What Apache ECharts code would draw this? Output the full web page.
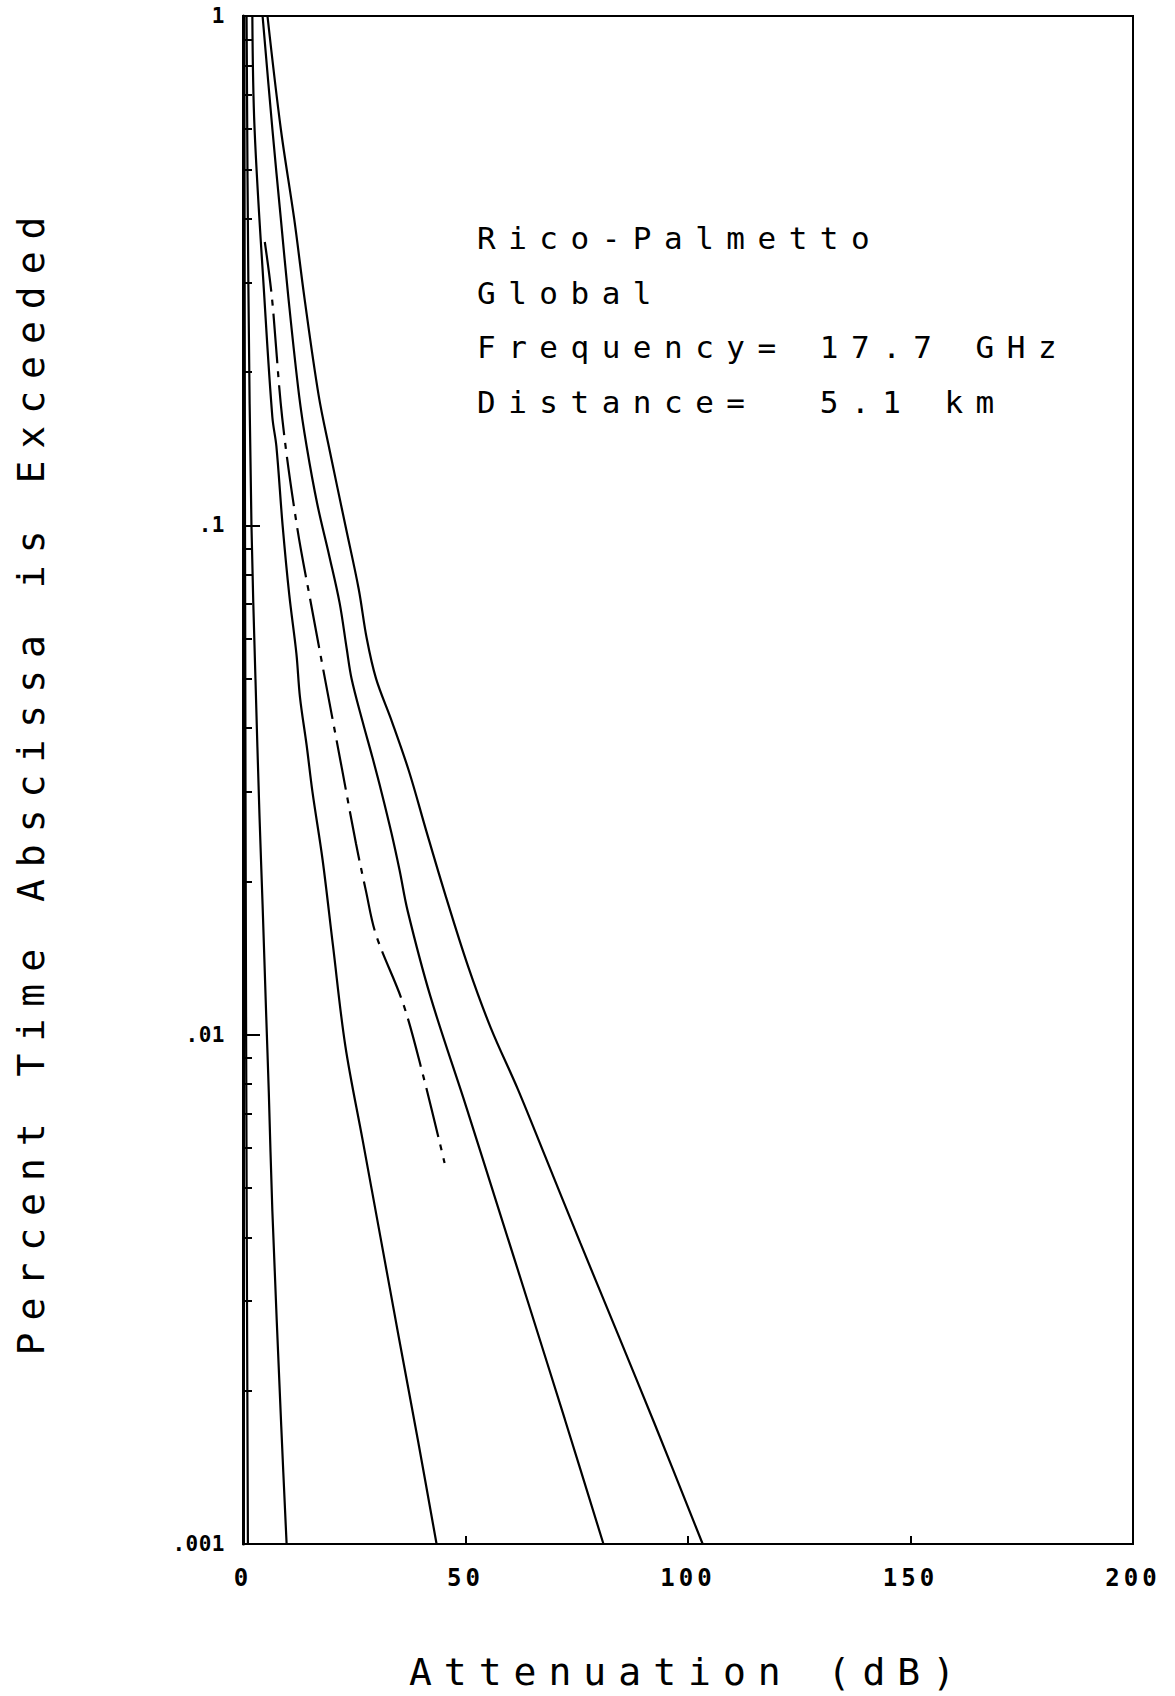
<!DOCTYPE html>
<html><head><meta charset="utf-8">
<script src="https://cdn.jsdelivr.net/npm/echarts@6/dist/echarts.min.js"></script>
<style>
html,body{margin:0;padding:0;background:#fff;}
#chart{width:1175px;height:1696px;}
#chart text{white-space:pre;}
#chart text[style*="31px"]{letter-spacing:12.5px;}
#chart text[style*="38px"]{letter-spacing:12px;}
#chart text[style*="24px"]{letter-spacing:4px;}
#chart text[style*="21px"]{letter-spacing:0.5px;}
</style></head><body><div id="chart"></div>
<script>
// [attenuation dB, percent time exceeded]
const curve0 = [[0.3,1],[0.45,0.1],[0.7,0.01],[1.1,0.001]];
const curve1 = [[0.8,1],[1.2,0.3],[1.9,0.1],[2.8,0.05],[3.7,0.027],[4.4,0.018],[5.2,0.011],[5.8,0.0077],[6.6,0.0045],[8.6,0.0017],[9.8,0.001]];
const curve2 = [[2.1,1],[2.6,0.6],[4.8,0.28],[6.6,0.163],[7.5,0.143],[8.9,0.1],[10.4,0.073],[12.0,0.056],[12.8,0.046],[14.3,0.037],[15.6,0.03],[17.9,0.022],[20.2,0.015],[23.0,0.0095],[26.9,0.0062],[30.9,0.004],[35.0,0.00255],[39.3,0.0016],[43.5,0.001]];
const dashCurve = [[4.9,0.36],[6.5,0.28],[8.8,0.163],[12.1,0.1],[15.3,0.07],[18.7,0.0485],[22.2,0.0334],[25.4,0.0237],[27.6,0.0192],[29.9,0.0157],[36,0.0115],[40.5,0.0083],[45.3,0.0056]];
const curve3 = [[4.4,1],[6.6,0.6],[8.5,0.4],[10.2,0.28],[12.6,0.18],[14.3,0.143],[16.7,0.11],[19.4,0.087],[21.7,0.0705],[23.3,0.0573],[24.4,0.05],[26.9,0.0411],[29.1,0.035],[31.1,0.03],[33.4,0.0248],[35.2,0.021],[37.0,0.0175],[42.1,0.0119],[50.2,0.0072],[57.6,0.0045],[64.5,0.0029],[72.3,0.00176],[81.0,0.001]];
const curve4 = [[5.5,1],[8.5,0.6],[11.5,0.4],[13.8,0.28],[17,0.18],[19.5,0.14],[23.0,0.1],[26,0.075],[27.8,0.06],[29.9,0.05],[33.5,0.0411],[37.3,0.0329],[41.2,0.0251],[45.4,0.0189],[50.6,0.0136],[55.7,0.0103],[61.8,0.0078],[67.8,0.0058],[75.8,0.0039],[84.5,0.00255],[92.4,0.00173],[103.3,0.001]];

const yMajorTicks = [0.001, 0.01, 0.1, 1];
const yMinorTicks = [0.002,0.003,0.004,0.005,0.006,0.007,0.008,0.009,
                     0.02,0.03,0.04,0.05,0.06,0.07,0.08,0.09,
                     0.2,0.3,0.4,0.5,0.6,0.7,0.8,0.9];
const noteLines = ['Rico-Palmetto', 'Global', 'Frequency= 17.7 GHz', 'Distance=  5.1 km'];
const xTitle = 'Attenuation (dB)';
const yTitle = 'Percent Time Abscissa is Exceeded';

const FONT = '"DejaVu Sans Mono", monospace';
const chart = echarts.init(document.getElementById('chart'), null, {renderer: 'svg'});

function yLabel(v) {
  const e = Math.round(Math.log10(v));
  if (e === 0) return '1';
  return '.' + '0'.repeat(-e - 1) + '1';
}

const solid = (data) => ({
  type: 'line', data, showSymbol: false, smooth: 0.35,
  lineStyle: {color: '#000', width: 2.2}, silent: true, animation: false
});

chart.setOption({
  animation: false,
  backgroundColor: '#fff',
  grid: {left: 243, right: 42, top: 16, bottom: 141, show: true, borderColor: '#000', borderWidth: 2, containLabel: false},
  xAxis: {
    type: 'value', min: 0, max: 200, interval: 50,
    name: xTitle, nameLocation: 'middle', nameGap: 109,
    nameTextStyle: {fontFamily: FONT, fontSize: 38, color: '#000'},
    axisLine: {show: true, lineStyle: {color: '#000', width: 2}},
    axisTick: {show: true, inside: true, length: 8, lineStyle: {color: '#000', width: 2}},
    axisLabel: {fontFamily: FONT, fontSize: 24, fontWeight: 'bold', color: '#000', margin: 22},
    splitLine: {show: false}
  },
  yAxis: [{
    type: 'log', logBase: 10, min: 0.001, max: 1,
    name: yTitle, nameLocation: 'middle', nameGap: 193, nameRotate: 90,
    nameTextStyle: {fontFamily: FONT, fontSize: 38, color: '#000'},
    axisLine: {show: true, lineStyle: {color: '#000', width: 3}},
    axisTick: {show: true, inside: true, length: 17, customValues: yMajorTicks, lineStyle: {color: '#000', width: 2}},
    axisLabel: {fontFamily: FONT, fontSize: 21, fontWeight: 'bold', color: '#000', margin: 18, customValues: yMajorTicks, formatter: yLabel},
    splitLine: {show: false}, minorTick: {show: false}
  }, {
    type: 'log', logBase: 10, min: 0.001, max: 1, position: 'left', offset: 0,
    axisLine: {show: false},
    axisTick: {show: true, inside: true, length: 9, customValues: yMinorTicks, lineStyle: {color: '#000', width: 2}},
    axisLabel: {show: false},
    splitLine: {show: false}
  }],
  graphic: noteLines.map((t, i) => ({
    type: 'text', x: 477, y: 238 + 54.6 * i, silent: true,
    style: {text: t, fontFamily: FONT, fontSize: 31, fill: '#000', verticalAlign: 'middle', align: 'left'}
  })),
  series: [
    solid(curve0), solid(curve1), solid(curve2),
    {type: 'line', data: dashCurve, showSymbol: false, smooth: 0.35, silent: true,
     lineStyle: {color: '#000', width: 2.2, type: [50, 8, 6, 8]}},
    solid(curve3), solid(curve4)
  ]
});
</script></body></html>
